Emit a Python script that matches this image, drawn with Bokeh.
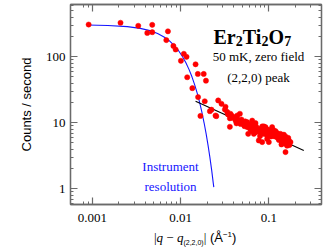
import math
from bokeh.plotting import figure
from bokeh.models import LogAxis, FixedTicker, Label, ColumnDataSource, Div
from bokeh.layouts import column
from bokeh.embed import file_html
from bokeh.resources import INLINE

# ---- data ----
q_data = [0.00091, 0.00209, 0.00332, 0.0042, 0.00478, 0.00478, 0.0072, 0.0069, 0.0083, 0.0088,
          0.0109, 0.0117, 0.0101, 0.0148, 0.0157, 0.0119, 0.0136, 0.0183, 0.0194, 0.0158,
          0.0168, 0.0188, 0.0215, 0.0224, 0.0249, 0.0254, 0.0267, 0.0291, 0.0323, 0.0318,
          0.0338, 0.0345, 0.0362, 0.0362, 0.0368, 0.0378, 0.0385, 0.0402, 0.0420, 0.0438,
          0.0438, 0.0457, 0.0470, 0.0478, 0.0500, 0.0521, 0.0569, 0.0569, 0.0584, 0.0620,
          0.0630, 0.0648, 0.0659, 0.0677, 0.0677, 0.0707, 0.0707, 0.0738, 0.0770, 0.0805,
          0.0795, 0.0841, 0.0841, 0.0879, 0.0879, 0.0917, 0.0933, 0.0958, 0.0958, 0.100,
          0.100, 0.1045, 0.109, 0.114, 0.119, 0.1245, 0.130, 0.130, 0.1356, 0.139,
          0.1416, 0.148, 0.152, 0.1545, 0.1545, 0.1545, 0.161, 0.161, 0.1686, 0.176,
          0.043, 0.049, 0.053, 0.054, 0.055, 0.060, 0.061, 0.067, 0.072, 0.075,
          0.078, 0.082, 0.086, 0.090, 0.094, 0.097, 0.102, 0.106, 0.110, 0.112,
          0.117, 0.121, 0.126, 0.133, 0.137, 0.143, 0.146, 0.150, 0.157, 0.158,
          0.164, 0.166, 0.171]
counts = [308, 328, 295, 230, 305, 236, 243, 179, 146, 129,
          111, 100, 87, 77, 55, 49, 33.5, 55, 43.5, 24.5,
          12.7, 21.2, 15.0, 15.8, 12.9, 12.6, 21.8, 19.4, 17.5, 15.9,
          14.6, 13.4, 11.7, 8.7, 13.7, 12.9, 11.9, 12.2, 10.8, 12.9,
          11.5, 10.5, 13.7, 9.6, 10.2, 9.4, 10.2, 8.6, 6.8, 9.1,
          7.5, 10.8, 8.6, 9.6, 6.8, 9.9, 7.2, 8.1, 5.4, 8.1,
          6.3, 8.8, 5.1, 6.8, 8.8, 8.6, 7.6, 6.4, 5.7, 7.8,
          5.1, 7.2, 8.6, 6.6, 7.5, 7.0, 6.4, 5.5, 6.8, 4.7,
          6.05, 6.6, 5.1, 6.2, 3.6, 4.8, 5.4, 4.5, 5.4, 5.1,
          9.8, 11.2, 8.9, 10.5, 9.8, 9.5, 8.2, 8.1, 8.7, 7.4,
          7.9, 7.0, 7.6, 7.1, 8.0, 7.0, 6.5, 6.2, 7.0, 7.8,
          6.2, 6.6, 5.9, 6.0, 5.4, 5.7, 5.2, 5.8, 5.6, 5.0,
          4.9, 5.9, 4.6]

res_q = [0.00088, 0.0015, 0.0025, 0.0035, 0.0045, 0.0055, 0.0065, 0.0075, 0.0085, 0.0095,
         0.0105, 0.0115, 0.0125, 0.0135, 0.0145, 0.0155, 0.0165, 0.0175, 0.0185, 0.0195,
         0.0205, 0.0215, 0.0225, 0.0235, 0.0238]
res_counts = [302.7, 298.2, 286.5, 269.8, 249.1, 225.4, 199.9, 173.8, 148.1, 123.7,
              101.2, 81.2, 63.9, 49.3, 37.2, 27.6, 20.0, 14.2, 9.92, 6.79,
              4.55, 2.99, 1.93, 1.21, 1.06]

fit_q = [0.0148, 0.249]
fit_counts = [21.2, 3.8]

x_major = [0.001, 0.01, 0.1]
x_labels = ["0.001", "0.01", "0.1"]
y_major = [1, 10, 100]
y_labels = ["1", "10", "100"]

X_LO, X_HI = 0.000567, 0.395
Y_LO, Y_HI = 0.578, 620

# frame position in page pixels (used only to place the text labels)
FL, FR, FT, FB = 70.0, 321.0, 4.0, 204.0


def px2x(px):
    a, b = math.log10(X_LO), math.log10(X_HI)
    return 10 ** (a + (px - FL) / (FR - FL) * (b - a))


def py2y(py):
    a, b = math.log10(Y_LO), math.log10(Y_HI)
    return 10 ** (a + (FB - py) / (FB - FT) * (b - a))


x_minor = [m * 10.0 ** e for e in (-4, -3, -2, -1) for m in range(2, 10)]
x_minor = [v for v in x_minor if 0.00075 < v < X_HI]
y_minor = [m * 10.0 ** e for e in (-1, 0, 1, 2) for m in range(2, 10)]
y_minor = [v for v in y_minor if Y_LO < v < Y_HI]

fig = figure(width=332, height=228, x_axis_type="log", y_axis_type="log",
             x_range=(X_LO, X_HI), y_range=(Y_LO, Y_HI),
             output_backend="svg", toolbar_location=None,
             min_border_left=70, min_border_right=11, min_border_top=4, min_border_bottom=24)
fig.grid.visible = False
AX_COL = "#6a6a6a"
fig.outline_line_color = AX_COL
fig.outline_line_width = 1.3
fig.background_fill_color = "white"
fig.border_fill_color = "white"

SERIF = "Liberation Serif"
SANS = "Liberation Sans"


def style_axis(ax, ticks, minor, labels, show_labels=True):
    ax.ticker = FixedTicker(ticks=ticks, minor_ticks=minor)
    ax.axis_line_color = AX_COL
    ax.axis_line_width = 1.3
    ax.major_tick_line_color = AX_COL
    ax.minor_tick_line_color = AX_COL
    ax.major_tick_line_width = 1.2
    ax.minor_tick_line_width = 1.0
    ax.major_tick_in = 7
    ax.major_tick_out = 0
    ax.minor_tick_in = 3
    ax.minor_tick_out = 0
    ax.major_label_overrides = {t: (l if show_labels else " ") for t, l in zip(ticks, labels)}
    if show_labels:
        ax.major_label_text_font = SERIF
        ax.major_label_text_font_size = "13px"
        ax.major_label_text_color = "black"
    else:
        ax.major_label_text_font_size = "1px"
        ax.major_label_standoff = 0


style_axis(fig.xaxis[0], x_major, x_minor, x_labels)
style_axis(fig.yaxis[0], y_major, y_minor, y_labels)
fig.xaxis[0].major_label_standoff = 9
fig.yaxis[0].major_label_standoff = 5
fig.yaxis[0].axis_label = "Counts / second"
fig.yaxis[0].axis_label_text_font = SANS
fig.yaxis[0].axis_label_text_font_size = "13px"
fig.yaxis[0].axis_label_text_font_style = "normal"
fig.yaxis[0].axis_label_text_color = "black"
fig.yaxis[0].axis_label_standoff = 9

top = LogAxis()
style_axis(top, x_major, x_minor, x_labels, show_labels=False)
fig.add_layout(top, "above")
right = LogAxis()
style_axis(right, y_major, y_minor, y_labels, show_labels=False)
fig.add_layout(right, "right")

# curves and data
fig.line(res_q, res_counts, line_color="#1515ff", line_width=1.1)
fig.line(fit_q, fit_counts, line_color="black", line_width=1.1)
src = ColumnDataSource(dict(q=q_data, c=counts))
fig.scatter("q", "c", source=src, size=5.2, fill_color="#ff0000", line_color="#ff0000", line_width=0.5)


def lab(text, px, py, size, font=SERIF, style="normal", color="black", align="left", baseline="alphabetic"):
    fig.add_layout(Label(x=px2x(px), y=py2y(py), text=text, text_font=font,
                         text_font_size=f"{size}px", text_font_style=style, text_color=color,
                         text_align=align, text_baseline=baseline))


# title Er2Ti2O7
title_parts = [("Er", 20, 0, 22.2), ("2", 14, 4, 7.0), ("Ti", 20, 0, 18.9),
               ("2", 14, 4, 7.0), ("O", 20, 0, 15.6), ("7", 14, 4, 7.0)]
xpos = 213.0
for t, s, dy, w in title_parts:
    lab(t, xpos, 36 + dy, s, style="bold")
    xpos += w

lab("50 mK, zero field", 258, 56, 13, align="center")
lab("(2,2,0) peak", 258, 77, 13, align="center")
lab("Instrument", 170, 166, 13, color="#1515ff", align="center")
lab("resolution", 170, 186, 13, color="#1515ff", align="center")

# x-axis label  |q - q_(2,2,0)| (Å^-1), rich text below the figure
xlabel_html = (
    '<span style="font-family:\'Liberation Serif\';font-size:13px;">|<i>q</i>&nbsp;\u2212&nbsp;<i>q</i></span>'
    '<span style="font-family:\'Liberation Sans\';font-size:7px;position:relative;top:3px;">(2,2,0)</span>'
    '<span style="font-family:\'Liberation Serif\';font-size:13px;">|</span>'
    '<span style="font-family:\'Liberation Sans\';font-size:13px;">&nbsp;(\u00c5'
    '<span style="font-size:8px;position:relative;top:-5px;">\u22121</span>)</span>'
)
xlabel = Div(text=xlabel_html, width=332, height=18,
             styles={"padding-left": "149px", "line-height": "15px", "color": "black",
                     "white-space": "nowrap", "margin-top": "2px"})

p = column(fig, xlabel, spacing=0)

open("out.html", "w").write(file_html(p, INLINE))
